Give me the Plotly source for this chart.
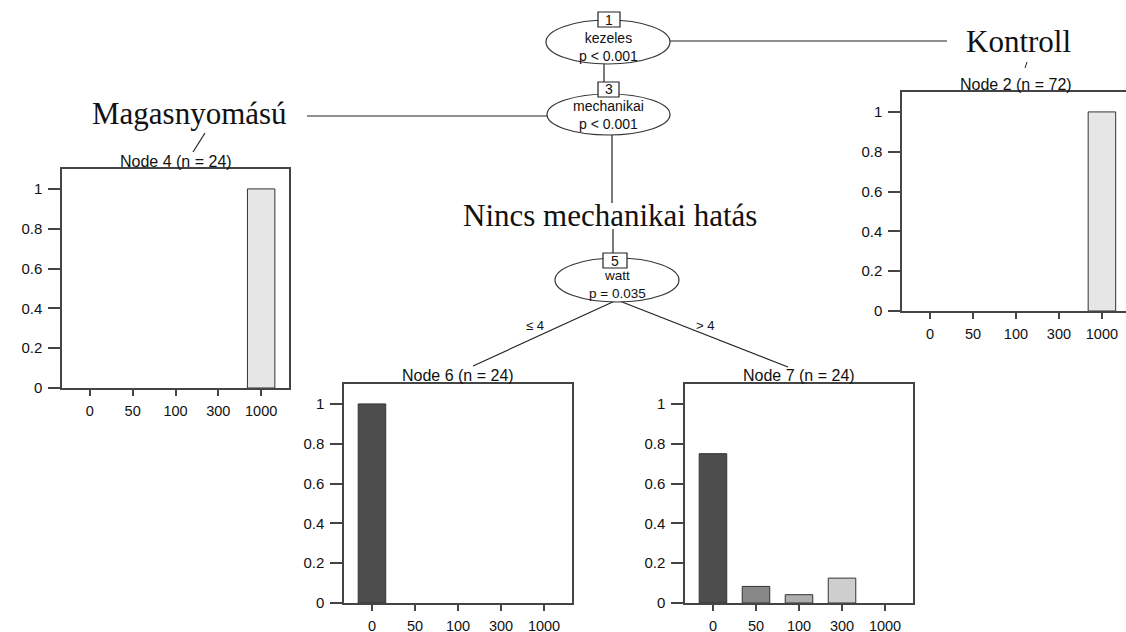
import plotly.graph_objects as go

W, H = 1126, 632
FIG_H = 640  # the photographed page is squeezed slightly in height

categories = ["0", "50", "100", "300", "1000"]
bar_colors = ["#4D4D4D", "#878787", "#AEAEAE", "#CECECE", "#E6E6E6"]

node2_vals = [0, 0, 0, 0, 1.0]
node4_vals = [0, 0, 0, 0, 1.0]
node6_vals = [1.0, 0, 0, 0, 0]
node7_vals = [0.75, 0.0833, 0.0417, 0.125, 0]

node_titles = {"2": "Node 2 (n = 72)", "4": "Node 4 (n = 24)",
               "6": "Node 6 (n = 24)", "7": "Node 7 (n = 24)"}
y_ticks = [0, 0.2, 0.4, 0.6, 0.8, 1]
y_ticktext = ["0", "0.2", "0.4", "0.6", "0.8", "1"]

SANS = "Liberation Sans, Arial, sans-serif"
SERIF = "Liberation Serif, Times New Roman, serif"
TXT = "#111111"
BOX = "#444444"


def px(x):
    return x / W


def py(y):
    return 1 - y / H


fig = go.Figure()

# panels: (values, axis suffix, x0, x1, y0, y1, xrange_max, mirror_y, title key)
panels = [
    (node4_vals, "", 62, 289, 169, 388, 4.65, True, "4"),
    (node2_vals, "2", 902, 1126, 92, 311, 4.56, False, "2"),
    (node6_vals, "3", 344, 572, 384, 603, 4.65, True, "6"),
    (node7_vals, "4", 685, 913, 384, 603, 4.65, True, "7"),
]

annotations = []
for vals, s, x0, x1, y0, y1, xmax, mirror_y, key in panels:
    fig.add_trace(go.Bar(
        x=categories, y=vals,
        marker=dict(color=bar_colors,
                    line=dict(color="#333333",
                              width=[1 if v > 0 else 0 for v in vals])),
        width=0.64,
        xaxis="x" + s, yaxis="y" + s, showlegend=False, hoverinfo="skip"))
    fig.update_layout(**{
        "xaxis" + s: dict(
            domain=[px(x0), px(x1)], anchor="y" + s, type="category",
            range=[-0.65, xmax], showgrid=False, zeroline=False,
            showline=True, linecolor=BOX, linewidth=1.5, mirror=True,
            ticks="outside", ticklen=6, tickcolor=BOX, tickwidth=1.5,
            ticklabelstandoff=3,
            tickfont=dict(family=SANS, size=14.5, color=TXT)),
        "yaxis" + s: dict(
            domain=[py(y1), py(y0)], anchor="x" + s,
            range=[0, 1.1], showgrid=False, zeroline=False,
            showline=True, linecolor=BOX, linewidth=1.5, mirror=mirror_y,
            tickvals=y_ticks, ticktext=y_ticktext,
            ticks="outside", ticklen=12, tickcolor=BOX, tickwidth=1.5,
            ticklabelstandoff=3,
            tickfont=dict(family=SANS, size=15, color=TXT)),
    })
    cx = (x0 + x1) / 2 if key != "2" else 1016
    annotations.append(dict(
        x=px(cx), y=py(y0 - 8), xref="paper", yref="paper",
        text=node_titles[key], showarrow=False,
        font=dict(family=SANS, size=16, color=TXT),
        xanchor="center", yanchor="middle"))

shapes = []


def line(xa, ya, xb, yb, w=1.2):
    shapes.append(dict(type="line", xref="paper", yref="paper",
                       x0=px(xa), y0=py(ya), x1=px(xb), y1=py(yb),
                       line=dict(color="#222222", width=w)))


def ellipse(xa, ya, xb, yb):
    shapes.append(dict(type="circle", xref="paper", yref="paper",
                       x0=px(xa), y0=py(yb), x1=px(xb), y1=py(ya),
                       fillcolor="white", line=dict(color="#333333", width=1.2)))


def rect(xa, ya, xb, yb):
    shapes.append(dict(type="rect", xref="paper", yref="paper",
                       x0=px(xa), y0=py(yb), x1=px(xb), y1=py(ya),
                       fillcolor="white", line=dict(color="#222222", width=1.2)))


# tree edges
line(604, 60, 604, 84)
line(612, 130, 612, 203)
line(613, 229, 613, 255)
line(617, 300, 473, 366)
line(617, 300, 788, 367)
line(307, 116, 550, 116)
line(668, 41, 947, 41)
line(205, 133, 193, 152)
line(1027, 62, 1025, 68, 1)

# node ellipses
ellipse(546, 20, 670, 64)
ellipse(547, 94, 670, 135)
ellipse(555, 258, 679, 302)

# node id boxes
rect(598, 12, 620, 27)
rect(598, 82, 619, 97)
rect(603, 253, 627, 268)


def text(x, y, s, size=15, family=SANS):
    annotations.append(dict(x=px(x), y=py(y), xref="paper", yref="paper",
                            text=s, showarrow=False,
                            font=dict(family=family, size=size, color=TXT),
                            xanchor="center", yanchor="middle"))


text(609, 19.5, "1", size=14)
text(608.5, 89.5, "3", size=14)
text(615, 260.5, "5", size=14)
text(608, 46.5, "kezeles<br>p &lt; 0.001", size=14)
text(608, 115, "mechanikai<br>p &lt; 0.001", size=14)
text(617, 284.5, "watt<br>p = 0.035", size=13.5)
text(535, 325, "≤ 4", size=13)
text(705, 325, "&gt; 4", size=13)

text(190, 114, "Magasnyomású", size=31, family=SERIF)
text(1018, 41, "Kontroll", size=31, family=SERIF)
text(610, 215, "Nincs mechanikai hatás", size=31, family=SERIF)

fig.update_layout(
    width=W, height=FIG_H, margin=dict(l=0, r=0, t=0, b=0),
    paper_bgcolor="white", plot_bgcolor="white",
    shapes=shapes, annotations=annotations, bargap=0.35,
)

css_js = (
    "var st=document.createElement('style');"
    "st.innerHTML='html,body{margin:0;padding:0;overflow:hidden;}"
    " .plotly-graph-div{display:block;}';"
    "document.head.appendChild(st);"
)

fig.write_html(
    "out.html",
    config={"displayModeBar": False},
    post_script=css_js,
)
